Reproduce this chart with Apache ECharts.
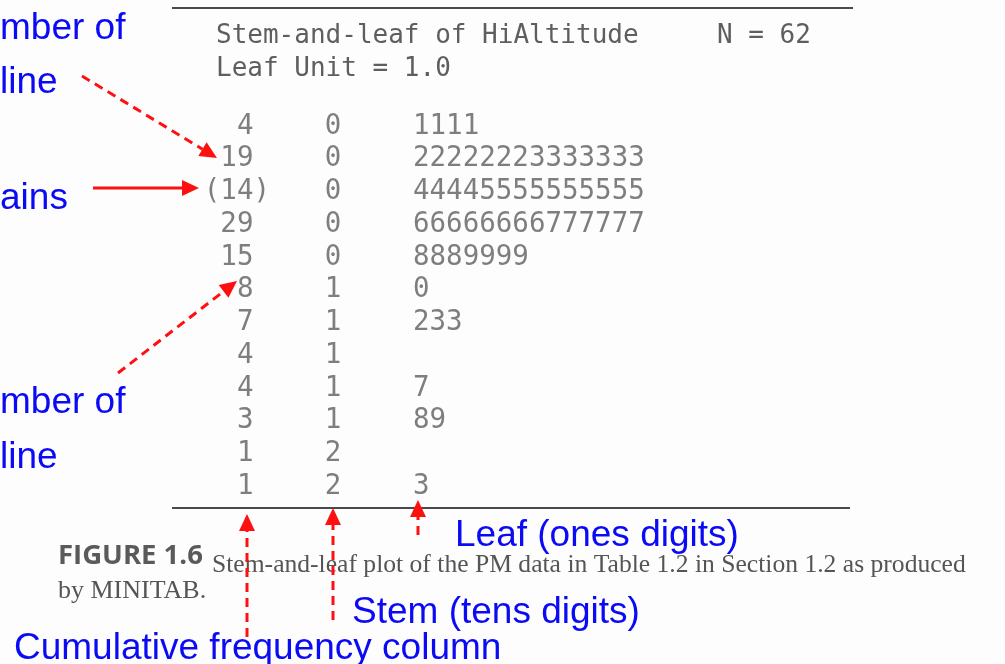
<!DOCTYPE html>
<html>
<head>
<meta charset="utf-8">
<script src="https://cdn.jsdelivr.net/npm/echarts@6/dist/echarts.min.js"></script>
<style>
  html, body { margin: 0; padding: 0; background: #fdfdfd; }
  #stemLeaf { width: 1005px; height: 664px; }
</style>
</head>
<body>
<div id="stemLeaf"></div>
<script>
// stem-and-leaf of HiAltitude, N = 62 (MINITAB output)
const depths = ['4', '19', '(14)', '29', '15', '8', '7', '4', '4', '3', '1', '1']
const stems = ['0', '0', '0', '0', '0', '1', '1', '1', '1', '1', '2', '2']
const leaves = ['1111', '22222223333333', '44445555555555', '66666666777777', '8889999',
  '0', '233', '', '7', '89', '', '3']
const columns = ['depth', 'stem', 'leaf']

const mono = 'DejaVu Sans Mono'
const ink = '#5e5e5e'
const red = '#ff1010'
const blue = '#0a0af5'

var chartDom = document.getElementById('stemLeaf');
var myChart = echarts.init(chartDom);

// red arrow: shaft (dashed or not) + triangle head pointing at (x2, y2)
function arrow(x1, y1, x2, y2, dashed) {
  const len = 17, half = 8
  const a = Math.atan2(y2 - y1, x2 - x1)
  const bx = x2 - len * Math.cos(a), by = y2 - len * Math.sin(a)
  const px = -Math.sin(a) * half, py = Math.cos(a) * half
  return [
    {
      type: 'line',
      shape: { x1: x1, y1: y1, x2: bx, y2: by },
      style: { stroke: red, lineWidth: 3, lineDash: dashed ? [9, 6] : null }
    },
    {
      type: 'polygon',
      shape: { points: [[x2, y2], [bx + px, by + py], [bx - px, by - py]] },
      style: { fill: red }
    }
  ]
}

// y is the baseline; graphic text is placed by its top
function text(str, x, y, size, font, color, k) {
  return {
    type: 'text', x: x, y: y - Math.round(size * (k || 0.8)),
    style: { text: str, fill: color, font: font, verticalAlign: 'top' }
  }
}

function note(str, x, y) {
  return text(str, x, y, 37, '37px "Liberation Sans", Arial, sans-serif', blue, 0.76)
}

const graphics = [
  { type: 'line', shape: { x1: 172, y1: 8, x2: 853, y2: 8 }, style: { stroke: '#4a4a4a', lineWidth: 2 } },
  { type: 'line', shape: { x1: 172, y1: 508, x2: 850, y2: 508 }, style: { stroke: '#4a4a4a', lineWidth: 2 } },
  text('FIGURE 1.6', 58, 564, 27, 'bold 27.5px "Open Sans", "Liberation Sans", sans-serif', '#5a5a5a'),
  text('Stem-and-leaf plot of the PM data in Table 1.2 in Section 1.2 as produced', 212, 573, 26,
    '25.6px "Liberation Serif", serif', '#555'),
  text('by MINITAB.', 58, 599, 26, '26px "Liberation Serif", serif', '#555'),
  note('mber of', 0, 38),
  note('line', 0, 92),
  note('ains', 0, 208),
  note('mber of', 0, 412),
  note('line', 0, 467),
  note('Leaf (ones digits)', 455, 545),
  note('Stem (tens digits)', 352, 622),
  note('Cumulative frequency column', 14, 658)
]
  .concat(arrow(82, 76, 217, 158, true))
  .concat(arrow(93, 188, 199, 188, false))
  .concat(arrow(118, 373, 237, 281, true))
  .concat(arrow(247, 637, 247, 514, true))
  .concat(arrow(333, 620, 333, 508, true))
  .concat(arrow(418, 535, 418, 500, true))

function column(idx, values, align, offset) {
  return {
    type: 'scatter',
    symbolSize: 0,
    silent: true,
    data: values.map((v, i) => [idx, i]),
    label: {
      show: true,
      position: 'inside',
      align: align,
      offset: offset,
      formatter: p => values[p.dataIndex],
      fontFamily: mono,
      fontSize: 27.5,
      color: ink
    }
  }
}

const option = {
  animation: false,
  title: {
    text: 'Stem-and-leaf of HiAltitude     N = 62\nLeaf Unit = 1.0',
    left: 216,
    top: 20,
    padding: 0,
    textStyle: { fontFamily: mono, fontSize: 26, fontWeight: 'normal', color: ink, lineHeight: 33 }
  },
  grid: { left: 213, width: 240, top: 110, height: 393 },
  xAxis: { type: 'category', data: columns, show: false },
  yAxis: { type: 'category', data: depths.map((d, i) => 'r' + i), inverse: true, show: false },
  series: [
    column(0, depths.map(d => d.startsWith('(') ? d : d + ' '), 'right', [17, 0]),
    column(1, stems, 'center', [0, 0]),
    column(2, leaves, 'left', [0, 0])
  ],
  graphic: graphics
}
option && myChart.setOption(option);
</script>
</body>
</html>
